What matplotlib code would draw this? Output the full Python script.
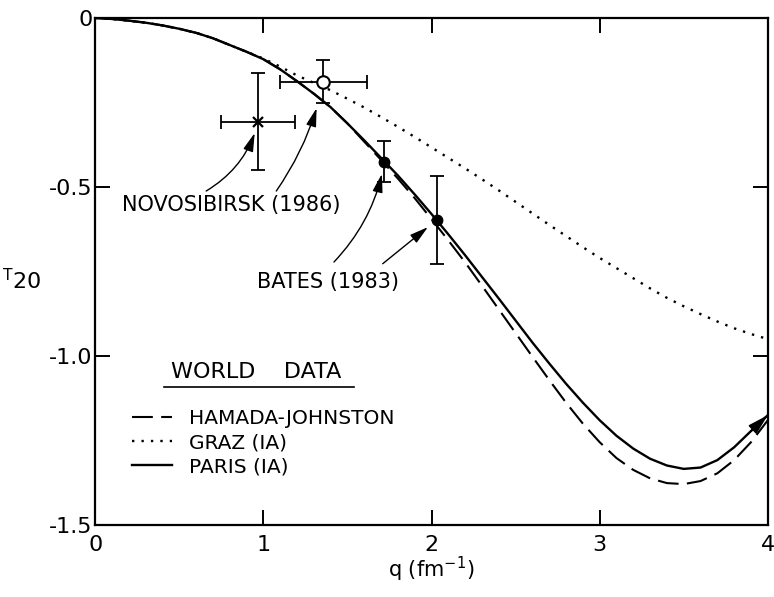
import matplotlib
matplotlib.use('Agg')
import matplotlib.pyplot as plt
import numpy as np

plt.rcParams['font.family'] = ['DejaVu Sans']
plt.rcParams['axes.unicode_minus'] = False

# q grid of the theory curves (fm^-1)
q_curve = [0.0, 0.1, 0.2, 0.3, 0.4, 0.5, 0.6, 0.7, 0.8, 0.9,
           1.0, 1.1, 1.2, 1.3, 1.4, 1.5, 1.6, 1.7, 1.8, 1.9,
           2.0, 2.1, 2.2, 2.3, 2.4, 2.5, 2.6, 2.7, 2.8, 2.9,
           3.0, 3.1, 3.2, 3.3, 3.4, 3.5, 3.6, 3.7, 3.8, 3.9, 4.0]

# PARIS (IA) - solid
t_paris = [0.0, -0.003, -0.008, -0.014, -0.022, -0.032, -0.044, -0.060, -0.080, -0.100,
           -0.122, -0.152, -0.187, -0.224, -0.264, -0.312, -0.362, -0.414, -0.466, -0.522,
           -0.580, -0.640, -0.702, -0.766, -0.830, -0.895, -0.960, -1.022, -1.082, -1.138,
           -1.190, -1.236, -1.274, -1.304, -1.324, -1.334, -1.330, -1.308, -1.270, -1.222, -1.175]

# HAMADA-JOHNSTON - dashed
t_hamada = [0.0, -0.003, -0.008, -0.014, -0.022, -0.032, -0.044, -0.060, -0.080, -0.100,
            -0.122, -0.152, -0.187, -0.224, -0.264, -0.312, -0.366, -0.420, -0.475, -0.533,
            -0.595, -0.658, -0.723, -0.792, -0.862, -0.932, -1.002, -1.071, -1.138, -1.200,
            -1.255, -1.302, -1.337, -1.362, -1.376, -1.379, -1.370, -1.347, -1.308, -1.255, -1.190]

# GRAZ (IA) - dotted
t_graz = [0.0, -0.003, -0.008, -0.014, -0.022, -0.032, -0.044, -0.060, -0.080, -0.100,
          -0.120, -0.144, -0.170, -0.192, -0.214, -0.239, -0.265, -0.293, -0.322, -0.352,
          -0.383, -0.414, -0.445, -0.477, -0.510, -0.544, -0.578, -0.612, -0.645, -0.678,
          -0.710, -0.740, -0.770, -0.800, -0.828, -0.853, -0.876, -0.898, -0.918, -0.935, -0.950]

# measurements
novo_q = [0.97, 1.357]
novo_t = [-0.307, -0.189]
novo_qerr = [0.22, 0.26]
novo_terr = [0.143, 0.064]

bates_q = [1.72, 2.03]
bates_t = [-0.425, -0.598]
bates_terr = [0.06, 0.13]

x_ticks = [0, 1, 2, 3, 4]
x_ticklabels = ['0', '1', '2', '3', '4']
y_ticks = [0, -0.5, -1.0, -1.5]
y_ticklabels = ['0', '-0.5', '-1.0', '-1.5']

fig = plt.figure(figsize=(7.74, 5.97), dpi=100)
ax = fig.add_axes([0.123, 0.1206, 0.869, 0.8493])

hj, = ax.plot(q_curve, t_hamada, color='k', lw=1.5, ls=(0, (10, 4)))
gz, = ax.plot(q_curve, t_graz, color='k', lw=1.7, ls=(0, (1, 3)))
pa, = ax.plot(q_curve, t_paris, color='k', lw=1.7)

# arrow head at the end of the curves
ax.annotate('', xy=(q_curve[-1], t_paris[-1]), xytext=(q_curve[-2], t_paris[-2]),
            arrowprops=dict(arrowstyle='-|>,head_length=0.9,head_width=0.25',
                            color='k', lw=1.2, shrinkA=0, shrinkB=0, mutation_scale=14))

# error bars
ax.errorbar(novo_q, novo_t, xerr=novo_qerr, yerr=novo_terr, fmt='none',
            ecolor='k', elinewidth=1.3, capsize=5, capthick=1.3)
ax.errorbar(bates_q, bates_t, yerr=bates_terr, fmt='none',
            ecolor='k', elinewidth=1.3, capsize=5, capthick=1.3)
ax.plot(novo_q[0], novo_t[0], 'x', color='k', ms=7, mew=1.6)
ax.plot(novo_q[1], novo_t[1], 'o', mfc='white', mec='k', ms=9, mew=1.5)
ax.plot(bates_q, bates_t, 'o', color='k', ms=7.5)

# labels with arrows
arrow = dict(arrowstyle='-|>,head_length=0.8,head_width=0.22', color='k', lw=1.0,
             shrinkA=0, mutation_scale=14)
ax.text(0.16, -0.553, 'NOVOSIBIRSK (1986)', fontsize=15, va='center', ha='left')
ax.annotate('', xy=(novo_q[0], novo_t[0]), xytext=(0.66, -0.512),
            arrowprops=dict(arrow, shrinkB=8.5, connectionstyle='arc3,rad=0.2'))
ax.annotate('', xy=(novo_q[1], novo_t[1]), xytext=(1.077, -0.512),
            arrowprops=dict(arrow, shrinkB=19.5, connectionstyle='arc3,rad=0.1'))

ax.text(0.964, -0.781, 'BATES (1983)', fontsize=15, va='center', ha='left')
ax.annotate('', xy=(bates_q[0], bates_t[0]), xytext=(1.42, -0.722),
            arrowprops=dict(arrow, shrinkB=9, connectionstyle='arc3,rad=0.15'))
ax.annotate('', xy=(bates_q[1], bates_t[1]), xytext=(1.71, -0.727),
            arrowprops=dict(arrow, shrinkB=8, connectionstyle='arc3,rad=0.0'))

# legend
ax.text(0.113, 0.302, 'WORLD    DATA', transform=ax.transAxes, fontsize=16, va='center')
ax.plot([0.103, 0.385], [0.272, 0.272], transform=ax.transAxes, color='k', lw=1.2)
ax.legend([hj, gz, pa], ['HAMADA-JOHNSTON', 'GRAZ (IA)', 'PARIS (IA)'],
          loc='upper left', bbox_to_anchor=(0.054, 0.228), frameon=False,
          fontsize=14.5, handlelength=2.0, handletextpad=0.85, labelspacing=0.25,
          borderpad=0, borderaxespad=0)

ax.set_xlim(0, 4)
ax.set_ylim(-1.5, 0)
ax.set_xticks(x_ticks)
ax.set_xticklabels(x_ticklabels)
ax.set_yticks(y_ticks)
ax.set_yticklabels(y_ticklabels)
ax.tick_params(direction='in', length=11, width=1.4, top=True, right=True, labelsize=16)
ax.tick_params(axis='x', pad=7)
ax.tick_params(axis='y', pad=2)
for s in ax.spines.values():
    s.set_linewidth(1.6)

ax.set_xlabel('q (fm$^{-1}$)', fontsize=15, labelpad=0)
ax.set_ylabel(r'$\mathregular{{}^{T}20}$', fontsize=16, rotation=0, va='center', ha='center')
ax.yaxis.set_label_coords(-0.109, 0.483)

fig.savefig('out.png', dpi=100)
